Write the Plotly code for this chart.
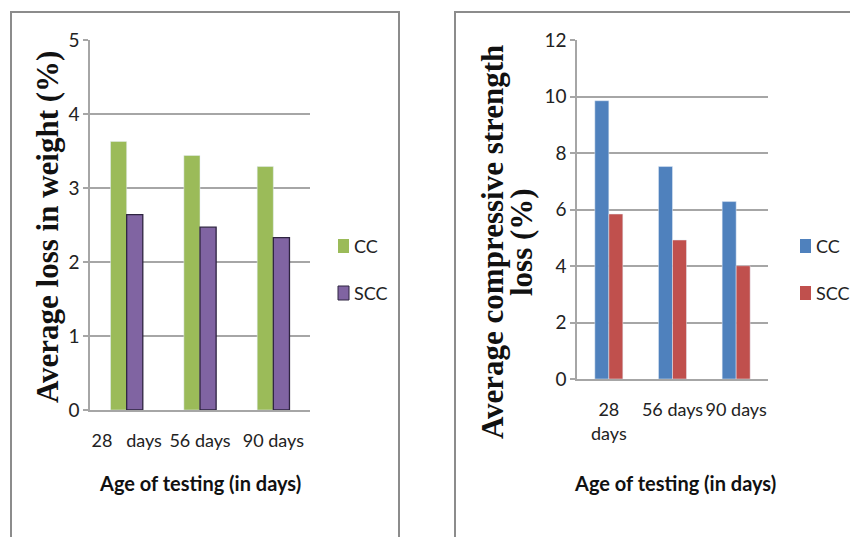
import plotly.graph_objects as go

# Data
ages_weight = ["28\u00a0\u00a0\u00a0days", "56 days", "90 days"]
ages_strength = ["28<br>days", "56 days", "90 days"]
series_names = ["CC", "SCC"]
weight_cc = [3.63, 3.44, 3.29]
weight_scc = [2.64, 2.47, 2.33]
strength_cc = [9.85, 7.52, 6.28]
strength_scc = [5.84, 4.92, 4.01]

W, H = 850, 537
SANS = "Lato, Open Sans, sans-serif"
GRID = "#a6a6a6"
GREEN, PURPLE, BLUE, RED = "#9BBB59", "#8064A2", "#4F81BD", "#C0504D"
PURPLE_EDGE = "#2e2440"


def px_x(v):
    return v / W


def px_y(v):
    return 1 - v / H


fig = go.Figure()

# Left chart: weight loss
fig.add_trace(go.Bar(x=ages_weight, y=weight_cc, name=series_names[0],
                     marker=dict(color=GREEN), xaxis="x", yaxis="y"))
fig.add_trace(go.Bar(x=ages_weight, y=weight_scc, name=series_names[1],
                     marker=dict(color=PURPLE, line=dict(color=PURPLE_EDGE, width=1.3)),
                     xaxis="x", yaxis="y"))

# Right chart: compressive strength loss
fig.add_trace(go.Bar(x=ages_strength, y=strength_cc, name=series_names[0],
                     marker=dict(color=BLUE), xaxis="x2", yaxis="y2"))
fig.add_trace(go.Bar(x=ages_strength, y=strength_scc, name=series_names[1],
                     marker=dict(color=RED), xaxis="x2", yaxis="y2"))

common_x = dict(showgrid=False, showline=True, linecolor=GRID, linewidth=1.5,
                tickfont=dict(family=SANS, size=18, color="#222"), ticks="", tickangle=0,
                ticklabelstandoff=14, automargin=False, fixedrange=True)
common_y = dict(showgrid=True, gridcolor=GRID, gridwidth=1.5, showline=True, linecolor=GRID,
                linewidth=1.5, ticks="outside", ticklen=5, tickcolor=GRID, tickwidth=1.5,
                tickfont=dict(family=SANS, size=19, color="#222"), zeroline=False,
                automargin=False, fixedrange=True, ticklabelstandoff=0)

fig.update_layout(
    width=W, height=H,
    margin=dict(l=0, r=0, t=0, b=0),
    paper_bgcolor="white", plot_bgcolor="white",
    barmode="group", bargap=0.56, bargroupgap=0,
    showlegend=False,
    xaxis=dict(domain=[px_x(90), px_x(310)], anchor="y", **common_x),
    yaxis=dict(domain=[px_y(410), px_y(40)], anchor="x", range=[0, 5], dtick=1, **common_y),
    xaxis2=dict(domain=[px_x(577), px_x(768)], anchor="y2", **common_x),
    yaxis2=dict(domain=[px_y(379), px_y(40)], anchor="x2", range=[0, 12], dtick=2, **common_y),
)

# Panel frames
for x0, x1 in [(11, 399), (455, 880)]:
    fig.add_shape(type="rect", xref="paper", yref="paper",
                  x0=px_x(x0), x1=px_x(x1), y0=px_y(560), y1=px_y(12),
                  line=dict(color="#8c8c8c", width=2), fillcolor="rgba(0,0,0,0)", layer="below")

# Legends: swatch + label per series
legend_font = dict(family=SANS, size=18, color="#222")
legends = [
    (338, [(GREEN, GREEN, 0), (PURPLE, PURPLE_EDGE, 1)]),
    (800, [(BLUE, BLUE, 0), (RED, RED, 0)]),
]
for lx, entries in legends:
    for i, (fill, edge, lw) in enumerate(entries):
        cy = 246 + 47 * i
        fig.add_shape(type="rect", xref="paper", yref="paper",
                      x0=px_x(lx), x1=px_x(lx + 11), y0=px_y(cy + 7), y1=px_y(cy - 7),
                      fillcolor=fill, line=dict(color=edge, width=lw))
        fig.add_annotation(text=series_names[i], xref="paper", yref="paper",
                           x=px_x(lx + 14), y=px_y(cy), xanchor="left", yanchor="middle",
                           showarrow=False, font=legend_font)

# Axis titles
title_serif = dict(family="Liberation Serif, Times New Roman, serif", size=31, color="#111", weight="bold")
title_sans = dict(family=SANS, size=20, color="#111", weight="bold")

fig.add_annotation(text="Average loss in weight (%)", xref="paper", yref="paper",
                   x=px_x(47), y=px_y(227), xanchor="center", yanchor="middle",
                   textangle=-90, showarrow=False, font=title_serif)
fig.add_annotation(text="Average compressive strength", xref="paper", yref="paper",
                   x=px_x(492), y=px_y(242), xanchor="center", yanchor="middle",
                   textangle=-90, showarrow=False, font=title_serif)
fig.add_annotation(text="loss (%)", xref="paper", yref="paper",
                   x=px_x(521), y=px_y(242), xanchor="center", yanchor="middle",
                   textangle=-90, showarrow=False, font=title_serif)
fig.add_annotation(text="Age of testing (in days)", xref="paper", yref="paper",
                   x=px_x(200), y=px_y(483), xanchor="center", yanchor="middle",
                   showarrow=False, font=title_sans)
fig.add_annotation(text="Age of testing (in days)", xref="paper", yref="paper",
                   x=px_x(675), y=px_y(483), xanchor="center", yanchor="middle",
                   showarrow=False, font=title_sans)

fig.write_html("out.html")
